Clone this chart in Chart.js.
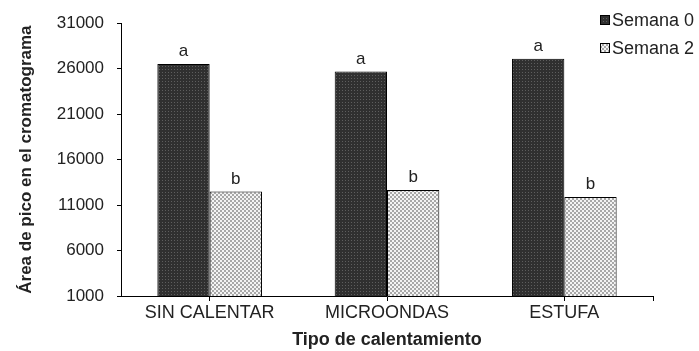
<!DOCTYPE html>
<html>
<head>
<meta charset="utf-8">
<script src="https://cdn.jsdelivr.net/npm/chart.js@4"></script>
<style>
  html, body { margin: 0; padding: 0; background: #ffffff; }
  #wrap { width: 699px; height: 351px; position: relative; }
</style>
</head>
<body>
<div id="wrap"><canvas id="c" width="699" height="351"></canvas></div>
<script>
// Tipos de calentamiento y áreas de pico por semana
const categories = ['SIN CALENTAR', 'MICROONDAS', 'ESTUFA'];
const seriesNames = ['Semana 0', 'Semana 2'];
const semana0 = [26500, 25700, 27100];
const semana2 = [12500, 12650, 11900];
const letras0 = ['a', 'a', 'a'];
const letras2 = ['b', 'b', 'b'];
const yTicks = { min: 1000, max: 31000, step: 5000 };

const FONT = '"Liberation Sans", Arial, sans-serif';
const TEXT = '#222222';

// Tramas de relleno para las barras
function makePattern(size, base, dots, dotColor) {
  const c = document.createElement('canvas');
  c.width = size; c.height = size;
  const g = c.getContext('2d');
  g.fillStyle = base; g.fillRect(0, 0, size, size);
  g.fillStyle = dotColor;
  dots.forEach(([x, y, w, h]) => g.fillRect(x, y, w, h));
  return g.createPattern(c, 'repeat');
}
const ctx = document.getElementById('c').getContext('2d');
const darkFill = makePattern(3, '#303030', [[0, 0, 1, 1]], '#5e5e5e');
const lightFill = makePattern(4, '#a8a8a8', [[0, 0, 2, 2], [2, 2, 2, 2]], '#f4f4f4');

// Letras de significancia sobre cada barra
const letterPlugin = {
  id: 'letters',
  afterDatasetsDraw(chart) {
    const c = chart.ctx;
    c.save();
    c.font = '17px ' + FONT;
    c.fillStyle = TEXT;
    c.textAlign = 'center';
    c.textBaseline = 'bottom';
    [letras0, letras2].forEach((ls, di) => {
      chart.getDatasetMeta(di).data.forEach((bar, i) => {
        c.fillText(ls[i], bar.x, bar.y - 4);
      });
    });
    c.restore();
  }
};

// Marca final del eje de categorías
const axisEndPlugin = {
  id: 'axisEnd',
  afterDraw(chart) {
    const a = chart.chartArea, c = chart.ctx;
    c.save();
    c.strokeStyle = '#000';
    c.lineWidth = 1;
    c.beginPath();
    c.moveTo(Math.round(a.right) + 0.5, a.bottom);
    c.lineTo(Math.round(a.right) + 0.5, a.bottom + 5);
    c.stroke();
    c.restore();
  }
};

// Leyenda en la esquina superior derecha
const legendPlugin = {
  id: 'cornerLegend',
  afterDraw(chart) {
    const c = chart.ctx;
    c.save();
    c.font = '18px ' + FONT;
    c.textBaseline = 'middle';
    chart.data.datasets.forEach((ds, i) => {
      const y = 20 + i * 28;
      c.fillStyle = ds.backgroundColor;
      c.fillRect(600, y - 5, 10, 10);
      c.strokeStyle = '#000';
      c.lineWidth = 1;
      c.strokeRect(600.5, y - 4.5, 9, 9);
      c.fillStyle = TEXT;
      c.textAlign = 'left';
      c.fillText(ds.label, 612, y + 1);
    });
    c.restore();
  }
};

new Chart(ctx, {
  type: 'bar',
  data: {
    labels: categories,
    datasets: [
      { label: seriesNames[0], data: semana0, backgroundColor: darkFill, borderColor: '#000', borderWidth: 1 },
      { label: seriesNames[1], data: semana2, backgroundColor: lightFill, borderColor: '#000', borderWidth: 1 }
    ]
  },
  options: {
    responsive: false,
    animation: false,
    devicePixelRatio: 1,
    layout: { padding: { left: 0, top: 23, right: 46, bottom: 0 } },
    datasets: { bar: { categoryPercentage: 0.59, barPercentage: 1.0 } },
    plugins: { legend: { display: false }, tooltip: { enabled: false } },
    scales: {
      x: {
        afterFit(s) { s.height = 55; },
        grid: { display: true, offset: false, drawOnChartArea: false, drawTicks: true, tickLength: 5, color: '#000' },
        border: { color: '#000', width: 1 },
        ticks: { color: TEXT, font: { family: FONT, size: 18 }, padding: 1 },
        title: { display: true, text: 'Tipo de calentamiento', color: TEXT, font: { family: FONT, size: 18, weight: 'bold' }, padding: { top: 1, bottom: 0 } }
      },
      y: {
        min: yTicks.min, max: yTicks.max,
        afterFit(s) { s.width = 121; },
        afterBuildTicks(s) {
          const t = [];
          for (let v = yTicks.min; v <= yTicks.max; v += yTicks.step) t.push({ value: v });
          s.ticks = t;
        },
        grid: { display: true, drawOnChartArea: false, drawTicks: true, tickLength: 4, color: '#000' },
        border: { color: '#000', width: 1 },
        ticks: { color: TEXT, font: { family: FONT, size: 17 }, padding: 13, callback: v => String(v) },
        title: { display: true, text: 'Área de pico en el cromatograma', color: TEXT, font: { family: FONT, size: 17, weight: 'bold' }, padding: { top: 16, bottom: 0 } }
      }
    }
  },
  plugins: [letterPlugin, axisEndPlugin, legendPlugin]
});
</script>
</body>
</html>
